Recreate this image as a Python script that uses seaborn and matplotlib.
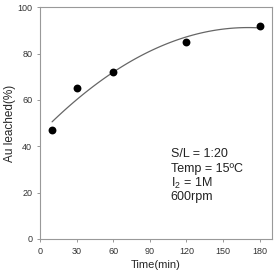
import numpy as np
import pandas as pd
import seaborn as sns
import matplotlib.pyplot as plt

# leaching data
time_min = [10, 30, 60, 120, 180]
au_leached = [47, 65, 72, 85, 92]
x_ticks = [0, 30, 60, 90, 120, 150, 180]
y_ticks = [0, 20, 40, 60, 80, 100]
conditions = ["S/L = 1:20", "Temp = 15\u00baC", "I$_{\\mathregular{2}}$ = 1M", "600rpm"]

sns.set_style("white")
plt.rcParams["font.family"] = ["Liberation Sans", "DejaVu Sans"]
plt.rcParams["mathtext.fontset"] = "custom"
plt.rcParams["mathtext.rm"] = "Liberation Sans"
plt.rcParams["mathtext.it"] = "Liberation Sans"

df = pd.DataFrame({"time": time_min, "au": au_leached})

fig = plt.figure(figsize=(2.75, 2.73), dpi=100)
ax = fig.add_axes([0.145, 0.125, 0.844, 0.848])

sns.regplot(data=df, x="time", y="au", order=2, ci=None, ax=ax,
            scatter_kws={"s": 32, "color": "black", "alpha": 1, "zorder": 3, "linewidths": 0},
            line_kws={"color": "#666666", "lw": 0.9})

ax.set_xlim(0, 190)
ax.set_ylim(0, 100)
ax.set_xticks(x_ticks)
ax.set_yticks(y_ticks)
ax.tick_params(labelsize=6.5, length=2.5, width=0.6, color="#888888",
               direction="out", bottom=True, left=True, pad=3, labelcolor="#333333")
for s in ax.spines.values():
    s.set_color("#999999")
    s.set_linewidth(0.8)

ax.set_xlabel("Time(min)", fontsize=8, labelpad=3)
ax.set_ylabel("Au leached(%)", fontsize=8.5, labelpad=1)

for i, t in enumerate(conditions):
    ax.text(107, 36.5 - i * 6.2, t, fontsize=9, va="center", ha="left", color="#222222")

plt.savefig("out.png", dpi=100)
